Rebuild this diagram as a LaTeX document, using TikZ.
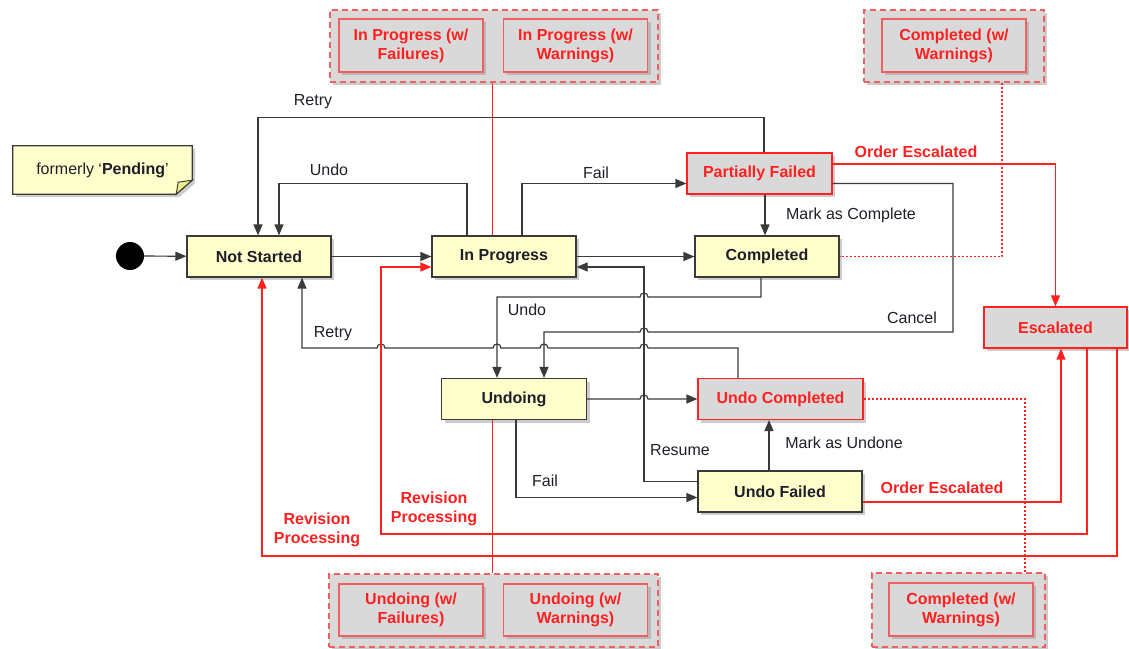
\documentclass[tikz,border=0pt]{standalone}
\usepackage{fontspec}
\setmainfont{Liberation Sans}
\usetikzlibrary{arrows.meta,shadows,calc}
\definecolor{stfill}{HTML}{FFFFCC}
\definecolor{stdraw}{HTML}{3A3A3A}
\definecolor{grfill}{HTML}{D9D9D9}
\definecolor{rd}{HTML}{FF2020}
\definecolor{rdl}{HTML}{F06060}
\definecolor{txt}{HTML}{1E1E2A}
\definecolor{fold}{HTML}{F2EE88}
\begin{document}
\begin{tikzpicture}[x=1pt,y=-1pt,
 every node/.style={font=\fontsize{16}{19}\selectfont, text=txt},
 shad/.style={drop shadow={shadow xshift=3pt,shadow yshift=-3pt,fill=black!40,opacity=0.5}},
 st/.style={rectangle,draw=stdraw,fill=stfill,line width=1.2pt,minimum width=144pt,minimum height=41pt,inner sep=0pt,font=\fontsize{16}{19}\selectfont\bfseries,shad},
 rst/.style={st,draw=rd,fill=grfill,text=rd},
 grp/.style={rectangle,draw=rdl,dash pattern=on 6pt off 4pt,fill=grfill,line width=1.6pt,inner sep=0pt,shad},
 sub/.style={rectangle,draw=rdl,fill=grfill,line width=1.6pt,minimum width=144pt,minimum height=53pt,inner sep=0pt,align=center,text=rd,font=\fontsize{16}{19}\selectfont\bfseries,shad},
 conn/.style={draw=stdraw,line width=1.2pt,-{Triangle[length=11pt,width=9pt]}},
 rconn/.style={draw=rd,line width=1.4pt,-{Triangle[length=11pt,width=9pt]}},
 rline/.style={draw=rd,line width=1.4pt},
 rdot/.style={draw=rd,line width=1.4pt,dash pattern=on 2pt off 2pt},
 lbl/.style={inner sep=0pt},
 rlbl/.style={inner sep=0pt,text=rd,font=\fontsize{16}{19}\selectfont\bfseries,align=center},
]
\useasboundingbox (0,0) rectangle (1129,648);

% groups
\node[grp,minimum width=328pt,minimum height=72pt] (g1) at (494,46) {};
\node[sub] (g1a) at (411,45.5) {In Progress (w/\\Failures)};
\node[sub] (g1b) at (575.5,45.5) {In Progress (w/\\Warnings)};
\node[grp,minimum width=180pt,minimum height=72pt] (g2) at (954,46) {};
\node[sub] (g2a) at (954,45.5) {Completed (w/\\Warnings)};
\node[grp,minimum width=329pt,minimum height=73pt] (g3) at (493.5,610.5) {};
\node[sub,minimum height=52pt] (g3a) at (411,610) {Undoing (w/\\Failures)};
\node[sub,minimum height=52pt] (g3b) at (575.5,610) {Undoing (w/\\Warnings)};
\node[grp,minimum width=173pt,minimum height=74pt] (g4) at (958.5,610) {};
\node[sub] (g4a) at (961,609.5) {Completed (w/\\Warnings)};

% note
\node[inner sep=0pt,minimum width=179pt,minimum height=48pt] (note) at (102.5,170) {};
\fill[black!40,opacity=0.5] ([xshift=3pt,yshift=-3pt]note.north west) -- ([xshift=3pt,yshift=-3pt]note.north east) -- ([xshift=3pt,yshift=-3pt]$(note.south east)+(0,-14)$) -- ([xshift=3pt,yshift=-3pt]$(note.south east)+(-16,0)$) -- ([xshift=3pt,yshift=-3pt]note.south west) -- cycle;
\draw[draw=stdraw,fill=stfill,line width=1.2pt] (note.north west) -- (note.north east) -- ($(note.south east)+(0,-14)$) -- ($(note.south east)+(-16,0)$) -- (note.south west) -- cycle;
\draw[draw=stdraw,fill=fold,line width=1pt] ($(note.south east)+(0,-14)$) -- ($(note.south east)+(-14,-12)$) -- ($(note.south east)+(-16,0)$) -- cycle;
\node[lbl] (notet) at (note.center) {formerly ‘\textbf{Pending}’};

% states
\node[circle,fill=black,minimum size=28pt,inner sep=0pt] (init) at (130,256) {};
\node[st] (ns) at (259,256.5) {Not Started};
\node[st] (ip) at (504,256.5) {In Progress};
\node[st] (co) at (767,256.5) {Completed};
\node[rst,minimum width=145pt] (pf) at (759.5,173.5) {Partially Failed};
\node[st,minimum width=145pt] (ud) at (514,399) {Undoing};
\node[rst,minimum width=165pt] (uc) at (780.5,399) {Undo Completed};
\node[st,minimum width=164pt] (uf) at (780,491.5) {Undo Failed};
\node[rst,minimum width=143pt] (es) at (1055.5,327.5) {Escalated};

% group links
\draw[rline] ([xshift=-1.5pt]g1.south) -- ([xshift=-11.5pt]ip.north);
\draw[rline] ([xshift=-21.5pt]ud.south) -- ([xshift=-1pt]g3.north);
\draw[rdot] ([xshift=48pt]g2.south) |- (co.east);
\draw[rdot] (uc.east) -| ([xshift=66.5pt]g4.north);

% black connectors
\draw[conn] (init) -- (ns);
\draw[conn] (ns) -- (ip);
\draw[conn] ([xshift=4.5pt]pf.north) -- ++(0,-35) -| ([xshift=-1pt]ns.north);
\node[lbl] (lretry1) at (313,102) {Retry};
\draw[conn] ([xshift=-37pt]ip.north) -- ++(0,-52) -| ([xshift=20pt]ns.north);
\node[lbl] (lundo1) at (329,170) {Undo};
\draw[conn] ([xshift=18pt]ip.north) |- ([yshift=-10pt]pf.west);
\node[lbl] (lfail1) at (596,173) {Fail};
\draw[conn] ([xshift=5.5pt]pf.south) -- ([xshift=-2pt]co.north);
\node[lbl] (lmac) at (851,215) {Mark as Complete};
\draw[conn] (ip) -- (co);
\draw[conn] ([yshift=10pt]uf.west) -| (644,267) -- ([yshift=-10.5pt]ip.east);
\node[lbl] (lres) at (680,450) {Resume};
\draw[conn] ([xshift=-6pt]co.south) -- (761,297) -- (648,297) .. controls (648,291.7) and (640,291.7) .. (640,297) -- (497,297) -- ([xshift=-17pt]ud.north);
\node[lbl] (lundo2) at (527,310) {Undo};
\draw[conn] ([yshift=-10pt]pf.east) -- (953,183.5) -- (953,332) -- (648,332) .. controls (648,326.7) and (640,326.7) .. (640,332) -- (544,332) -- ([xshift=30pt]ud.north);
\node[lbl] (lcan) at (912,318) {Cancel};
\draw[conn] ([xshift=-42.5pt]uc.north) -- (738,348) -- (648,348) .. controls (648,342.7) and (640,342.7) .. (640,348) -- (548,348) .. controls (548,342.7) and (540,342.7) .. (540,348) -- (501,348) .. controls (501,342.7) and (493,342.7) .. (493,348) -- (385,348) .. controls (385,342.7) and (377,342.7) .. (377,348) -- (302,348) -- ([xshift=43pt]ns.south);
\node[lbl] (lretry2) at (333,334) {Retry};
\draw[conn] (ud.east) -- (640,399) .. controls (640,393.7) and (648,393.7) .. (648,399) -- (uc.west);
\draw[conn] ([xshift=2pt]ud.south) |- ([yshift=-6pt]uf.west);
\node[lbl] (lfail2) at (545,481) {Fail};
\draw[conn] ([xshift=-11pt]uf.north) -- ([xshift=-11.5pt]uc.south);
\node[lbl] (lmau) at (844,443) {Mark as Undone};

% red connectors
\draw[rconn] ([yshift=9.5pt]pf.east) -| (es.north);
\node[rlbl] (loe1) at (916,152) {Order Escalated};
\draw[rconn] ([yshift=-10.5pt]uf.east) -| ([xshift=5.5pt]es.south);
\node[rlbl] (loe2) at (942,488) {Order Escalated};
\draw[rconn] ([xshift=31.5pt]es.south) -- (1087,534) -- (381,534) -- (381,267) -- ([yshift=-10.5pt]ip.west);
\node[rlbl] (lrp1) at (434,509) {Revision\\Processing};
\draw[rconn] ([xshift=61.5pt]es.south) -- (1117,556) -- (262,556) -- ([xshift=3pt]ns.south);
\node[rlbl] (lrp2) at (317,530) {Revision\\Processing};
\end{tikzpicture}
\end{document}
